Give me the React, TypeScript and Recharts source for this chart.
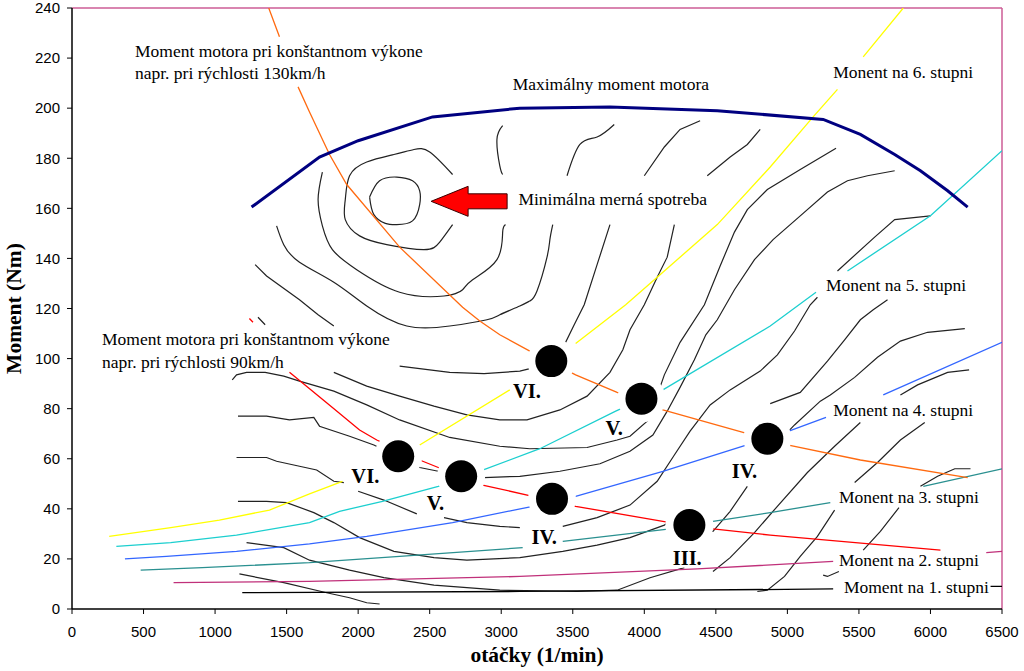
import { ComposedChart, Line, Scatter, XAxis, YAxis, ReferenceLine } from 'recharts';

type P = [number, number] | null;

// otáčky (1/min), moment (Nm); null = break in the line
const xTicks = [0, 500, 1000, 1500, 2000, 2500, 3000, 3500, 4000, 4500, 5000, 5500, 6000, 6500];
const yTicks = [0, 20, 40, 60, 80, 100, 120, 140, 160, 180, 200, 220, 240];

const maxTorque: P[] = [[1255, 160.5], [1730, 180.5], [2000, 187], [2520, 196.5], [3130, 200], [3760, 200.5], [4510, 199], [5250, 195.5], [5510, 189.5], [5750, 181.5], [5930, 175], [6120, 167], [6260, 160.5]];

const power130: P[] = [[1375, 240], [1450, 228.5], null, [1580, 208.5], [1660, 198.5], [1800, 181.5], [1920, 169.5], [2290, 144.5], [2730, 120.5], [2850, 115], [2990, 109.5], [3200, 103], [3520, 93.5], [3810, 86.5], [4130, 79.5], [4690, 70.5], [5000, 65.5], [5510, 59.5], [6260, 52.5]];
const power90: P[] = [[1240, 116], [1265, 114.5], null, [1520, 94.5], [1820, 80.5], [2010, 71.5], [2130, 67.5], [2430, 59.5], [2560, 56.5], [2870, 49.5], [3220, 45], [3520, 41], [4180, 34.5], [4480, 32], [4880, 29.5], [6070, 23.5]];

const gear6: P[] = [[260, 29], [690, 32.5], [1030, 35.5], [1380, 39.5], [1660, 46], [1890, 51], null, [2430, 65.5], [3060, 87.5], null, [3520, 106], [3870, 121.5], [4090, 132.5], [4510, 153.5], [4880, 176.5], [5180, 196.5], [5350, 207.5], null, [5530, 220.5], [5810, 240]];
const gear5: P[] = [[310, 25], [690, 26.5], [1150, 29.5], [1660, 34.5], [1870, 39], [2170, 43], [2560, 49], [2870, 55.5], [3270, 64], [3800, 79], [4130, 87.5], [4880, 113], [5200, 126.5], null, [5420, 135], [6000, 157], [6500, 183]];
const gear4: P[] = [[370, 20], [660, 21], [1150, 23], [1660, 26], [2060, 29], [2660, 34.5], [3220, 41], [3520, 45], [4130, 55], [4690, 65], [5010, 71], [5270, 76.5], null, [5670, 85.5], [6500, 106.5]];
const gear3: P[] = [[480, 15.5], [910, 16.5], [1660, 18.5], [2290, 21], [3150, 24.5], null, [3430, 27], [4180, 32], [4480, 35], [4880, 38.5], [5300, 42.5], null, [5950, 49], [6500, 56]];
const gear2: P[] = [[710, 10.5], [1660, 11], [3130, 13], [4370, 16], [5320, 19], null, [6390, 22.5], [6500, 23]];
const gear1: P[] = [[1190, 6.5], [3130, 7], [5320, 8], null, [6420, 9], [6500, 9]];

// isolines of specific consumption (inner ones drawn smooth)
const iso1: P[] = [[2080, 164.5], [2150, 171], [2270, 172.5], [2380, 171], [2430, 167], [2430, 161.5], [2380, 155], [2270, 153.5], [2190, 154], [2110, 157.5], [2080, 164.5]];
const iso2: P[] = [[2660, 173.5], [2500, 182.5], [2390, 183.5], [2250, 181.5], [2060, 178.5], [1940, 173], [1910, 163.5], [1910, 155.5], [2010, 149], [2200, 145.5], [2460, 143.5], [2570, 146.5], [2660, 153.5]];
const iso3: P[] = [[3010, 193], [2970, 187.5], [2990, 177], [3010, 173.5], null, [3030, 153.5], [3010, 150.5], [2970, 139.5], [2800, 131.5], [2730, 127.5], [2600, 125], [2290, 126.5], [1990, 135.5], [1820, 143.5], [1750, 153], [1720, 163.5], [1750, 174.5]];
const iso4: P[] = [[3790, 193.5], [3670, 188.5], [3550, 185.5], [3460, 173], null, [3360, 153.5], [3340, 147.5], [3320, 140.5], [3250, 127], [3200, 123], [3130, 121], [2990, 117.5], [2900, 115.5], [2640, 113], [2340, 113], [2060, 121], [1830, 130.5], [1590, 138.5], [1480, 145.5], [1430, 153]];
const iso5: P[] = [[1280, 137.5], [1360, 133], [1590, 123.5], [1720, 117.5], [1830, 113], null, [2290, 97], [2640, 94.5], [2880, 94], [3130, 95], [3270, 97], [3450, 106.5], [3510, 113.5], [3580, 121.5], [3670, 137.5], [3760, 153.5], null, [4000, 173], [4140, 184.5], [4250, 191.5], [4390, 195]];
const iso6: P[] = [[1300, 116.5], [1350, 113.5], null, [1830, 94.5], [2060, 89], [2290, 85], [2530, 81], [2760, 77.5], [2990, 75.5], [3180, 75.5], [3410, 79.5], [3600, 85], [3760, 94.5], [3850, 103.5], [3900, 111.5], [4000, 121.5], [4090, 132.5], [4160, 140.5], [4210, 153.5], null, [4440, 173], [4600, 180.5], [4720, 185.5], [4810, 191.5]];
const iso7: P[] = [[1120, 91.5], [1150, 93.5], [1220, 94.5], [1350, 94.5], [1480, 93], [1590, 91], [1830, 87], [2060, 81.5], [2290, 75.5], [2640, 68.5], [2990, 65], [3200, 64], [3600, 64.5], [3810, 67.5], [3900, 69], [4030, 75.5], [4140, 93.5], [4250, 106.5], [4420, 121.5], [4530, 137], [4630, 150.5], [4720, 159.5], [4860, 167.5], [5090, 175.5], [5340, 184]];
const iso8: P[] = [[1160, 77], [1360, 77], [1520, 75.5], [1690, 76.5], [1730, 73], [1940, 69], [2110, 65.5], [2430, 56.5], [2560, 55], [2880, 52.5], [3130, 53], [3410, 55], [3690, 58], [3900, 63], [4060, 69.5], [4160, 79], [4250, 88.5], [4350, 99.5], [4430, 109.5], [4510, 115.5], [4630, 127.5], [4770, 139.5], [4900, 147.5], [5090, 157], [5280, 166.5], [5420, 171], [5560, 173], [5750, 175]];
const iso9: P[] = [[1150, 60.5], [1360, 60.5], [1430, 59], [1590, 57], [1710, 55.5], [1830, 51], [1900, 50.5], null, [2000, 47], [2180, 43.5], [2410, 38], null, [2600, 36.5], [2760, 34.5], [2990, 33], [3130, 32.5], null, [3430, 33], [3670, 36.5], [3900, 41.5], [4090, 51], [4210, 61.5], [4320, 71], [4460, 81.5], [4600, 87.5], [4810, 95], [4930, 101.5], [5050, 111], [5160, 121.5], [5210, 124.5], null, [5350, 135], [5610, 148.5], [5750, 155.5], [6000, 157]];
const iso10: P[] = [[1160, 43], [1360, 43], [1500, 42.5], [1690, 38.5], [1830, 34.5], [2010, 28.5], [2250, 23], [2530, 20.5], [2760, 19.5], [3130, 20.5], [3430, 23], [3670, 25.5], [3900, 28.5], [4140, 33.5], [4180, 35], [4480, 31], [4600, 39], [4720, 49], null, [5000, 70.5], [5050, 73.5], [5230, 83], [5300, 85.5], [5470, 92.5], [5630, 100.5], [5790, 107], [5980, 110.5], [6240, 112]];
const iso11: P[] = [[1220, 26.5], [1480, 24.5], [1660, 19.5], [1940, 15.5], [2180, 12.5], [2530, 9.5], [2990, 7.5], [3530, 7], [3810, 7.5], [4040, 12.5], [4280, 16.5], null, [4480, 15], [4600, 20.5], [4770, 30.5], [4930, 41], [5140, 54.5], [5330, 65], [5510, 74.5], null, [5790, 85.5], [5910, 89.5], [6120, 94.5], [6270, 95.5]];
const iso12: P[] = [[1170, 14], [1480, 10.5], [1780, 6.5], [1940, 4.5], [2060, 2.5], [2150, 2]];
const iso13: P[] = [[4790, 7], [4860, 7.5], [4980, 13], [5090, 21], [5210, 29], [5330, 39.5], null, [5470, 50.5], [5630, 58.5], [5790, 67.5], [5960, 74.5]];
const iso14: P[] = [[5530, 23.5], [5650, 31], [5780, 40.5], null, [5930, 49], [6050, 53], [6170, 56], [6280, 56]];
const iso15: P[] = [[5250, 13.5], [5280, 13], [5360, 15]];
const iso16: P[] = [[5700, 123.5], [5600, 119.5], [5510, 115.5], [5400, 107.5], [5280, 99], [5090, 86.5], [4880, 82]];

const smoothIsolines = [iso1, iso2, iso3, iso4];
const isolines = [iso5, iso6, iso7, iso8, iso9, iso10, iso11, iso12, iso13, iso14, iso15, iso16];

// operating points and their gear numerals
const pointX = [2280, 2720, 3350, 3980, 4860, 3355, 4315];
const pointY = [61, 53, 99, 84, 68, 44, 33.5];
const numerals = ['VI.', 'V.', 'IV.', 'III.', 'VI.', 'V.', 'IV.'];
const numeralX = [2050, 2540, 3300, 4300, 3180, 3790, 4700];
const numeralY = [53, 42.5, 29, 20.5, 87, 72.5, 55];

const notes = [
  'Moment motora pri konštantnom výkone',
  'napr. pri rýchlosti 130km/h',
  'Maximálny moment motora',
  'Minimálna merná spotreba',
  'Monent na 6. stupni',
  'Monent na 5. stupni',
  'Moment motora pri konštantnom výkone',
  'napr. pri rýchlosti 90km/h',
  'Monent na 4. stupni',
  'Monent na 3. stupni',
  'Monent na 2. stupni',
  'Moment na 1. stupni',
];
const noteX = [440, 440, 3080, 3120, 5320, 5270, 210, 210, 5320, 5360, 5360, 5395];
const noteY = [222.8, 214, 209.6, 163.6, 214.4, 129.6, 108, 98.8, 79.6, 44.8, 19.6, 8.8];

const arrowTip = [{ x: 2510, y: 162.8 }];

const toRows = (pts: P[]) =>
  pts.map((p, i) => (p ? { x: p[0], y: p[1] } : { x: (pts[i - 1] as [number, number])[0], y: null }));

const serif = '"Liberation Serif", "Times New Roman", serif';
const sans = '"Liberation Sans", Arial, sans-serif';

const dots = pointX.map((x, i) => ({ x, y: pointY[i] }));
const numeralRows = numerals.map((t, i) => ({ x: numeralX[i], y: numeralY[i], t }));
const noteRows = notes.map((t, i) => ({ x: noteX[i], y: noteY[i], t }));

const DotShape = (props: any) => (
  <g>
    <circle cx={props.cx} cy={props.cy} r={24} fill="#fff" />
    <circle cx={props.cx} cy={props.cy} r={16} fill="#000" />
  </g>
);

const NoteShape = (props: any) => (
  <text x={props.cx} y={props.cy} dy="0.35em" fontFamily={serif} fontSize={17.5} fill="#000"
    stroke="#fff" strokeWidth={4} paintOrder="stroke">
    {props.payload.t}
  </text>
);

const NumeralShape = (props: any) => (
  <text x={props.cx} y={props.cy} dy="0.35em" textAnchor="middle" fontFamily={serif} fontSize={20.5}
    fontWeight="bold" fill="#000" stroke="#fff" strokeWidth={5} paintOrder="stroke">
    {props.payload.t}
  </text>
);

const ArrowShape = (props: any) => {
  const { cx, cy } = props;
  const pts = [[0, 0], [37, -15], [37, -7.5], [76, -7.5], [76, 7.5], [37, 7.5], [37, 15]]
    .map(([dx, dy]) => `${cx + dx},${cy + dy}`).join(' ');
  return <polygon points={pts} fill="#ff0000" stroke="#3a0000" strokeWidth={1} />;
};

export default function App() {
  const gears = [
    { d: gear6, c: '#ffff00' },
    { d: gear5, c: '#1ccfcf' },
    { d: gear4, c: '#3366ff' },
    { d: gear3, c: '#2a9090' },
    { d: gear2, c: '#c0307a' },
    { d: gear1, c: '#000000' },
  ];

  return (
    <div style={{ position: 'absolute', left: 0, top: 0, width: 1024, height: 671, background: '#fff' }}>
      <ComposedChart width={1024} height={671} margin={{ top: 8, right: 22, bottom: 8, left: 8 }}>
        <XAxis
          type="number"
          dataKey="x"
          domain={[0, 6500]}
          ticks={xTicks}
          interval={0}
          allowDataOverflow
          height={54}
          tickSize={5}
          tickMargin={12}
          axisLine={{ stroke: '#000', strokeWidth: 1.5 }}
          tickLine={{ stroke: '#000' }}
          tick={{ fontSize: 15, fill: '#000', fontFamily: sans }}
          label={{
            content: (p: any) => (
              <text x={p.viewBox.x + p.viewBox.width / 2} y={p.viewBox.y + 53} textAnchor="middle"
                fontFamily={serif} fontSize={21.5} fontWeight="bold" fill="#000">
                otáčky (1/min)
              </text>
            ),
          }}
        />
        <YAxis
          type="number"
          dataKey="y"
          domain={[0, 240]}
          ticks={yTicks}
          interval={0}
          allowDataOverflow
          width={64}
          tickSize={5}
          tickMargin={7}
          axisLine={{ stroke: '#000', strokeWidth: 1.5 }}
          tickLine={{ stroke: '#000' }}
          tick={{ fontSize: 15, fill: '#000', fontFamily: sans }}
          label={{
            content: (p: any) => {
              const x = p.viewBox.x + 13;
              const y = p.viewBox.y + p.viewBox.height / 2;
              return (
                <text x={x} y={y} transform={`rotate(-90 ${x} ${y})`} textAnchor="middle"
                  fontFamily={serif} fontSize={21.5} fontWeight="bold" fill="#000">
                  Moment (Nm)
                </text>
              );
            },
          }}
        />
        <ReferenceLine y={240} stroke="#cc5c96" strokeWidth={1.5} />
        <ReferenceLine x={6500} stroke="#cc5c96" strokeWidth={1.5} />

        {smoothIsolines.map((d, i) => (
          <Line key={`siso-${i}`} data={toRows(d)} dataKey="y" type="natural" stroke="#222" strokeWidth={1.2}
            dot={false} activeDot={false} isAnimationActive={false} />
        ))}
        {isolines.map((d, i) => (
          <Line key={`iso-${i}`} data={toRows(d)} dataKey="y" type="linear" stroke="#222" strokeWidth={1.2}
            dot={false} activeDot={false} isAnimationActive={false} />
        ))}
        {gears.map((g, i) => (
          <Line key={`gear-${i}`} data={toRows(g.d)} dataKey="y" type="linear" stroke={g.c} strokeWidth={1.3}
            dot={false} activeDot={false} isAnimationActive={false} />
        ))}
        <Line data={toRows(power130)} dataKey="y" type="linear" stroke="#ff6a10" strokeWidth={1.3}
          dot={false} activeDot={false} isAnimationActive={false} />
        <Line data={toRows(power90)} dataKey="y" type="linear" stroke="#ff0000" strokeWidth={1.3}
          dot={false} activeDot={false} isAnimationActive={false} />
        <Line data={toRows(maxTorque)} dataKey="y" type="linear" stroke="#000080" strokeWidth={3}
          dot={false} activeDot={false} isAnimationActive={false} />

        <Scatter data={dots} dataKey="y" shape={DotShape} isAnimationActive={false} />
        <Scatter data={arrowTip} dataKey="y" shape={ArrowShape} isAnimationActive={false} />
        <Scatter data={numeralRows} dataKey="y" shape={NumeralShape} isAnimationActive={false} />
        <Scatter data={noteRows} dataKey="y" shape={NoteShape} isAnimationActive={false} />
      </ComposedChart>
    </div>
  );
}
